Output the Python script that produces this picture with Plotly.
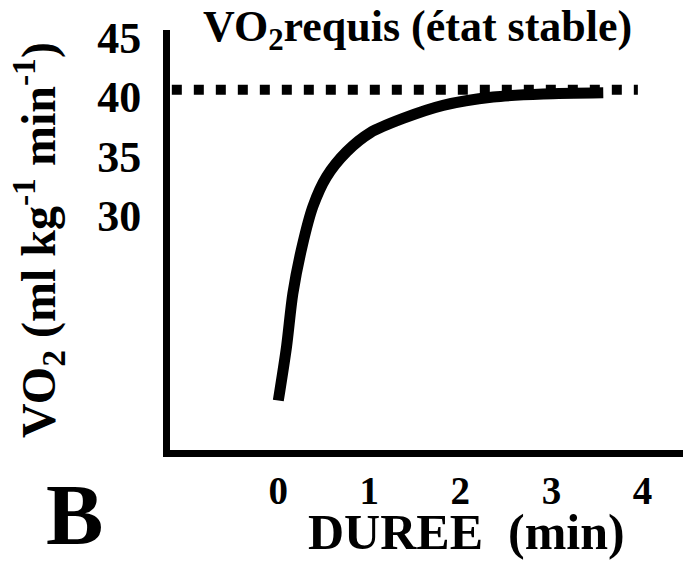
import plotly.graph_objects as go

# Data
duree_min = [0.0, 0.09, 0.16, 0.26, 0.38, 0.53, 0.75, 1.01, 1.37, 1.81, 2.36, 2.91, 3.57]
vo2 = [14.5, 19.0, 23.5, 27.4, 30.8, 33.3, 35.4, 37.0, 38.2, 39.3, 40.0, 40.25, 40.35]
requis_x = [-1.17, 3.95]
requis_y = [40.6, 40.6]
x_ticks = [0, 1, 2, 3, 4]
y_ticks = [30, 35, 40, 45]

FONT = "Liberation Serif"

fig = go.Figure()
fig.add_trace(go.Scatter(x=requis_x, y=requis_y, mode="lines",
                         line=dict(color="black", width=10, dash="10px,12px"),
                         hoverinfo="skip", showlegend=False))
fig.add_trace(go.Scatter(x=duree_min, y=vo2, mode="lines",
                         line=dict(color="black", width=11, shape="spline", smoothing=0.8),
                         showlegend=False))

fig.update_layout(
    width=683, height=568,
    margin=dict(l=170, r=0, t=30, b=118),
    plot_bgcolor="white", paper_bgcolor="white",
    font=dict(family=FONT, color="black", weight="bold"),
    xaxis=dict(range=[-1.19, 4.446], tickvals=x_ticks, ticktext=[str(v) for v in x_ticks],
               showgrid=False, zeroline=False, showline=True, linecolor="black", linewidth=7,
               ticks="", ticklabelstandoff=0,
               tickfont=dict(family=FONT, size=39, color="black", weight="bold")),
    yaxis=dict(range=[10.34, 45.63], tickvals=y_ticks, ticktext=[str(v) for v in y_ticks],
               showgrid=False, zeroline=False, showline=True, linecolor="black", linewidth=7,
               ticks="", ticklabelstandoff=13,
               tickfont=dict(family=FONT, size=44, color="black", weight="bold"),
               title=dict(text="VO<sub>2</sub> (ml kg<sup>-1</sup> min<sup>-1</sup>)", standoff=29,
                          font=dict(family=FONT, size=48, color="black", weight="bold"))),
    annotations=[
        dict(text="VO<sub>2</sub>requis (état stable)", xref="paper", yref="paper",
             x=0.483, y=1.0, yshift=30, xanchor="center", yanchor="top", showarrow=False,
             font=dict(family=FONT, size=44, color="black", weight="bold")),
        dict(text="DUREE\u00a0\u00a0(min)", xref="paper", yref="paper",
             x=0.577, y=-0.124, xanchor="center", yanchor="top", showarrow=False,
             font=dict(family=FONT, size=50, color="black", weight="bold")),
        dict(text="B", xref="paper", yref="paper", x=-0.2456, y=-0.036, xanchor="left", yanchor="top",
             showarrow=False, font=dict(family=FONT, size=86, color="black", weight="bold")),
    ],
)

fig.write_html("out.html")
